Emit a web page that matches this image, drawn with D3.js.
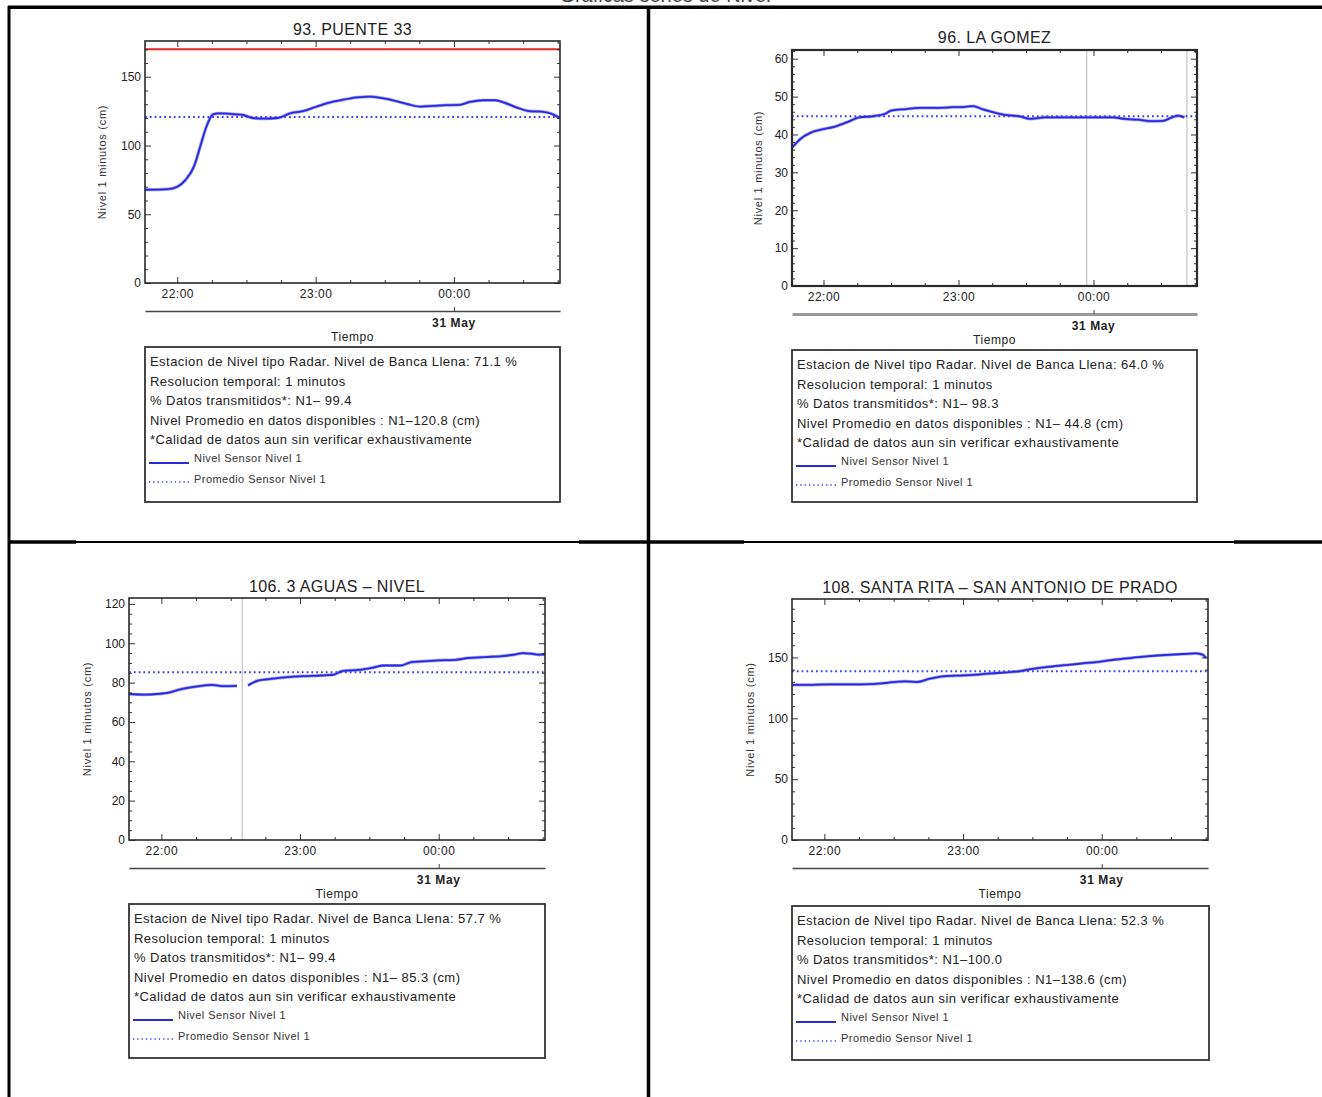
<!DOCTYPE html>
<html>
<head>
<meta charset="utf-8">
<script src="https://cdn.jsdelivr.net/npm/d3@7"></script>
<style>
  html, body { margin: 0; padding: 0; background: #fff; }
  svg { display: block; }
</style>
</head>
<body>
<div id="chart"></div>
<script>
// minutes after 22:00 (30 May) and level in cm
const puenteMin = [-14, -4, 0, 3.6, 7.3, 10, 12.7, 15.5, 18.2, 25.5, 29, 32.7, 38, 43.6, 49, 54.5, 60, 65.5, 71, 78, 83.6, 89, 94.5, 100, 105.5, 111, 116.4, 122, 127, 132.7, 138, 141.8, 147.3, 152.7, 158, 161.8, 166]
const puenteLevel = [67.8, 68.3, 70, 75, 85, 99.5, 114, 122.7, 123.4, 122.7, 122, 120, 119.5, 120, 123.4, 125, 128, 131, 133, 135, 135.6, 134.4, 132.4, 130, 128.3, 128.8, 129.3, 129.5, 131.7, 132.9, 132.9, 131.2, 127.6, 125, 124.6, 123.4, 120]

const gomezMin = [-14, -10.3, -5.6, 0, 4.7, 10.3, 16, 21.6, 27.2, 30, 36.6, 42.2, 49.7, 57.2, 62.9, 66.6, 70.4, 76, 81.6, 87.2, 92, 98.5, 106, 113.5, 121, 128.5, 134, 139.8, 145.4, 151, 154.8, 157.6, 160.4]
const gomezLevel = [36.5, 38.8, 40.5, 41.4, 42, 43.2, 44.5, 44.8, 45.4, 46.3, 46.7, 47, 47, 47.2, 47.3, 47.5, 46.7, 45.8, 45.1, 44.8, 44.1, 44.5, 44.5, 44.5, 44.5, 44.5, 44.1, 43.9, 43.5, 43.6, 44.5, 45, 44.5]

const aguasMin = [-14, -7.3, -1.8, 3.6, 7.3, 12.7, 18.2, 21.8, 27.3, 32.7, 34, 37.5, 41.8, 47.3, 54.5, 61.8, 69, 74.5, 78.2, 85.5, 91, 96.4, 103.6, 108.2, 112.7, 120, 127.3, 132.7, 140, 147.3, 152.7, 156.4, 160, 163.6, 166]
const aguasLevel = [74.2, 73.9, 74.2, 75, 76.3, 77.6, 78.5, 78.8, 78.2, 78.3, null, 78.6, 81, 81.9, 82.8, 83.3, 83.6, 84, 85.8, 86.5, 87.5, 88.7, 88.7, 90.4, 90.8, 91.3, 91.6, 92.5, 93, 93.5, 94.2, 95, 94.7, 94.2, 94.4]

const ritaMin = [-14, -7.3, 1.8, 11, 20, 27.4, 34.7, 40.1, 45.6, 51.1, 60.2, 67.5, 74.8, 84, 89.4, 96.7, 104, 111.3, 118.6, 126, 133.2, 140.5, 147.8, 155.1, 160.6, 163.4, 165.2]
const ritaLevel = [127.5, 127.5, 127.8, 127.8, 128, 129.2, 130.3, 129.8, 132.5, 134.5, 135.3, 136.1, 137.2, 138.6, 140.3, 142.2, 143.6, 145, 146.4, 148.3, 149.7, 151.1, 152, 152.8, 153.3, 152.5, 149.7]

const titles = ['93. PUENTE 33', '96. LA GOMEZ', '106. 3 AGUAS \u2013 NIVEL', '108. SANTA RITA \u2013 SAN ANTONIO DE PRADO']
const bancaLlena = ['71.1', '64.0', '57.7', '52.3']
const datosTx = [' 99.4', ' 98.3', ' 99.4', '100.0']
const promedio = ['120.8', ' 44.8', ' 85.3', '138.6']
const meanLevel = [120.8, 44.8, 85.3, 138.6]
const bankFull = [170, null, null, null]
const gapMarks = [[], [117, 161.5], [35], []]
const yMax = [176, 62.3, 123, 198]
const yMajor = [50, 10, 20, 50]
const yMinor = [10, 2, 5, 10]
const hourTicks = [0, 60, 120]
const dateLabel = '31 May'

const W = 1322, H = 1097
const FONT = "'Liberation Sans', Arial, Helvetica, sans-serif"
const LINE_BLUE = '#2a2ad8'

const base = new Date(2020, 4, 30, 22, 0)
const toDate = (m) => new Date(base.getTime() + m * 60000)

const series = [
  [puenteMin, puenteLevel],
  [gomezMin, gomezLevel],
  [aguasMin, aguasLevel],
  [ritaMin, ritaLevel],
]

const boxes = [
  { x0: 145, x1: 560, y0: 41, y1: 283, titleY: 35, legTop: 347, legBot: 502, ylabX: 103 },
  { x0: 792, x1: 1197, y0: 50, y1: 286, titleY: 43, legTop: 350, legBot: 502, ylabX: 759 },
  { x0: 129, x1: 545, y0: 598, y1: 840, titleY: 592, legTop: 904, legBot: 1058, ylabX: 88 },
  { x0: 792, x1: 1208, y0: 599, y1: 840, titleY: 593, legTop: 906, legBot: 1060, ylabX: 751 },
]

const svg = d3.select('#chart').append('svg')
  .attr('width', W).attr('height', H)
  .attr('font-family', FONT)

// page heading, mostly cut off above the table as in the source
svg.append('text')
  .attr('x', 665).attr('y', 1.5)
  .attr('text-anchor', 'middle')
  .attr('font-size', 20)
  .attr('fill', '#444')
  .text('Gr\u00e1ficas series de Nivel')

// table frame
const frame = svg.append('g').attr('stroke', '#000')
frame.append('line').attr('x1', 8).attr('x2', W).attr('y1', 7.2).attr('y2', 7.2).attr('stroke-width', 3.5)
frame.append('line').attr('x1', 9).attr('x2', 9).attr('y1', 6).attr('y2', H).attr('stroke-width', 3)
frame.append('line').attr('x1', 648.5).attr('x2', 648.5).attr('y1', 6).attr('y2', H).attr('stroke-width', 3.5)
frame.append('line').attr('x1', 8).attr('x2', W).attr('y1', 542).attr('y2', 542).attr('stroke-width', 2)
;[[8, 76], [579, 744], [1234, W]].forEach(([a, b]) => {
  frame.append('line').attr('x1', a).attr('x2', b).attr('y1', 542).attr('y2', 542).attr('stroke-width', 3.5)
})

boxes.forEach((b, i) => {
  const g = svg.append('g')
  const [mins, levels] = series[i]
  const pts = mins.map((m, k) => ({ t: toDate(m), v: levels[k] }))

  const x = d3.scaleTime().domain([toDate(-14), toDate(166)]).range([b.x0, b.x1])
  const y = d3.scaleLinear().domain([0, yMax[i]]).range([b.y1, b.y0])

  const clipId = 'clip' + i
  svg.append('clipPath').attr('id', clipId)
    .append('rect').attr('x', b.x0).attr('y', b.y0)
    .attr('width', b.x1 - b.x0).attr('height', b.y1 - b.y0)

  // title
  g.append('text')
    .attr('x', (b.x0 + b.x1) / 2).attr('y', b.titleY)
    .attr('text-anchor', 'middle').attr('font-size', 16).attr('letter-spacing', 0.4).attr('fill', '#222')
    .text(titles[i])

  const plot = g.append('g').attr('clip-path', `url(#${clipId})`)

  // gray marks where data is missing
  plot.selectAll('line.gap').data(gapMarks[i]).join('line')
    .attr('x1', (d) => x(toDate(d))).attr('x2', (d) => x(toDate(d)))
    .attr('y1', b.y0).attr('y2', b.y1)
    .attr('stroke', '#c4c4c4').attr('stroke-width', 1.2)

  if (bankFull[i] != null) {
    plot.append('line')
      .attr('x1', b.x0).attr('x2', b.x1)
      .attr('y1', y(bankFull[i])).attr('y2', y(bankFull[i]))
      .attr('stroke', '#e3261f').attr('stroke-width', 2)
  }

  plot.append('line')
    .attr('x1', b.x0).attr('x2', b.x1)
    .attr('y1', y(meanLevel[i])).attr('y2', y(meanLevel[i]))
    .attr('stroke', '#3b3bff').attr('stroke-width', 2)
    .attr('stroke-dasharray', '1.8,3')

  const line = d3.line()
    .defined((d) => d.v != null)
    .x((d) => x(d.t)).y((d) => y(d.v))
    .curve(d3.curveMonotoneX)

  plot.append('path').datum(pts)
    .attr('d', line).attr('fill', 'none')
    .attr('stroke', '#5a5aff').attr('stroke-width', 3.2).attr('stroke-opacity', 0.6)
  plot.append('path').datum(pts)
    .attr('d', line).attr('fill', 'none')
    .attr('stroke', LINE_BLUE).attr('stroke-width', 1.8)

  // axes, ticks pointing inward on all four sides
  const hours = hourTicks.map(toDate)
  const quarters = d3.range(-0, 166, 15).concat([-15]).filter((m) => m >= -14 && m % 60 !== 0).map(toDate)
  const yMaj = d3.range(0, yMax[i] + 0.001, yMajor[i])
  const yMin = d3.range(0, yMax[i] + 0.001, yMinor[i]).filter((v) => Math.abs(v / yMajor[i] - Math.round(v / yMajor[i])) > 1e-6)

  const styleAxis = (sel) => {
    sel.select('.domain').remove()
    sel.selectAll('line').attr('stroke', '#333').attr('stroke-width', 1)
    sel.selectAll('text').attr('font-family', FONT).attr('font-size', 12).attr('fill', '#222')
  }

  g.append('g').attr('transform', `translate(0,${b.y1})`)
    .call(d3.axisBottom(x).tickValues(hours).tickFormat(d3.timeFormat('%H:%M')).tickSizeInner(-6).tickSizeOuter(0).tickPadding(6))
    .call(styleAxis)
    .selectAll('text').attr('letter-spacing', 0.5)
  g.append('g').attr('transform', `translate(0,${b.y1})`)
    .call(d3.axisBottom(x).tickValues(quarters).tickFormat('').tickSizeInner(-3).tickSizeOuter(0))
    .call(styleAxis)
  g.append('g').attr('transform', `translate(0,${b.y0})`)
    .call(d3.axisTop(x).tickValues(hours).tickFormat('').tickSizeInner(-6).tickSizeOuter(0))
    .call(styleAxis)
  g.append('g').attr('transform', `translate(0,${b.y0})`)
    .call(d3.axisTop(x).tickValues(quarters).tickFormat('').tickSizeInner(-3).tickSizeOuter(0))
    .call(styleAxis)

  g.append('g').attr('transform', `translate(${b.x0},0)`)
    .call(d3.axisLeft(y).tickValues(yMaj).tickFormat(d3.format('d')).tickSizeInner(-6).tickSizeOuter(0).tickPadding(4))
    .call(styleAxis)
  g.append('g').attr('transform', `translate(${b.x0},0)`)
    .call(d3.axisLeft(y).tickValues(yMin).tickFormat('').tickSizeInner(-3).tickSizeOuter(0))
    .call(styleAxis)
  g.append('g').attr('transform', `translate(${b.x1},0)`)
    .call(d3.axisRight(y).tickValues(yMaj).tickFormat('').tickSizeInner(-6).tickSizeOuter(0))
    .call(styleAxis)
  g.append('g').attr('transform', `translate(${b.x1},0)`)
    .call(d3.axisRight(y).tickValues(yMin).tickFormat('').tickSizeInner(-3).tickSizeOuter(0))
    .call(styleAxis)

  // plot frame
  g.append('rect')
    .attr('x', b.x0).attr('y', b.y0)
    .attr('width', b.x1 - b.x0).attr('height', b.y1 - b.y0)
    .attr('fill', 'none').attr('stroke', '#2a2a2a').attr('stroke-width', i === 1 ? 2.2 : 1.6)

  // y title
  g.append('text')
    .attr('transform', `translate(${b.ylabX},${(b.y0 + b.y1) / 2}) rotate(-90)`)
    .attr('text-anchor', 'middle').attr('dominant-baseline', 'middle')
    .attr('font-size', 11).attr('letter-spacing', 0.7).attr('fill', '#333')
    .text('Nivel 1 minutos (cm)')

  // date axis below
  const dateY = b.y1 + 28
  const dateAxis = g.append('g').attr('transform', `translate(0,${dateY})`)
    .call(d3.axisBottom(x).tickValues([toDate(120)]).tickFormat('').tickSizeInner(-4).tickSizeOuter(0))
  dateAxis.select('.domain')
    .attr('stroke', i === 1 ? '#999' : '#444').attr('stroke-width', i === 1 ? 3 : 1.6)
  dateAxis.selectAll('line').attr('stroke', '#444')
  g.append('text')
    .attr('x', x(toDate(120))).attr('y', dateY + 16)
    .attr('text-anchor', 'middle').attr('font-size', 12).attr('letter-spacing', 0.6)
    .attr('font-weight', 'bold').attr('fill', '#222')
    .text(dateLabel)
  g.append('text')
    .attr('x', (b.x0 + b.x1) / 2).attr('y', b.y1 + 58)
    .attr('text-anchor', 'middle').attr('font-size', 12).attr('letter-spacing', 0.6).attr('fill', '#222')
    .text('Tiempo')

  // info box
  const legX = b.x0
  const legW = (i === 3 ? 1209 : b.x1) - legX
  g.append('rect')
    .attr('x', legX).attr('y', b.legTop)
    .attr('width', legW).attr('height', b.legBot - b.legTop)
    .attr('fill', 'none').attr('stroke', '#333').attr('stroke-width', 1.8)

  const lines = [
    `Estacion de Nivel tipo Radar. Nivel de Banca Llena: ${bancaLlena[i]} %`,
    'Resolucion temporal: 1 minutos',
    `% Datos transmitidos*: N1\u2013${datosTx[i]}`,
    `Nivel Promedio en datos disponibles : N1\u2013${promedio[i]} (cm)`,
    '*Calidad de datos aun sin verificar exhaustivamente',
  ]
  g.selectAll('text.info').data(lines).join('text')
    .attr('class', 'info')
    .attr('x', legX + 5).attr('y', (_, k) => b.legTop + 19 + k * 19.5)
    .attr('font-size', 13).attr('letter-spacing', 0.45).attr('fill', '#222')
    .style('white-space', 'pre')
    .text((d) => d)

  const keyY1 = b.legTop + 116
  const keyY2 = b.legTop + 135
  g.append('line')
    .attr('x1', legX + 4).attr('x2', legX + 44).attr('y1', keyY1).attr('y2', keyY1)
    .attr('stroke', LINE_BLUE).attr('stroke-width', 1.8)
  g.append('line')
    .attr('x1', legX + 4).attr('x2', legX + 44).attr('y1', keyY2).attr('y2', keyY2)
    .attr('stroke', '#3b3bff').attr('stroke-width', 1.3).attr('stroke-dasharray', '1.3,3')
  g.append('text')
    .attr('x', legX + 49).attr('y', keyY1 - 1)
    .attr('font-size', 11).attr('letter-spacing', 0.45).attr('fill', '#333')
    .text('Nivel Sensor Nivel 1')
  g.append('text')
    .attr('x', legX + 49).attr('y', keyY2 + 1)
    .attr('font-size', 11).attr('letter-spacing', 0.45).attr('fill', '#333')
    .text('Promedio Sensor Nivel 1')
})
</script>
</body>
</html>
